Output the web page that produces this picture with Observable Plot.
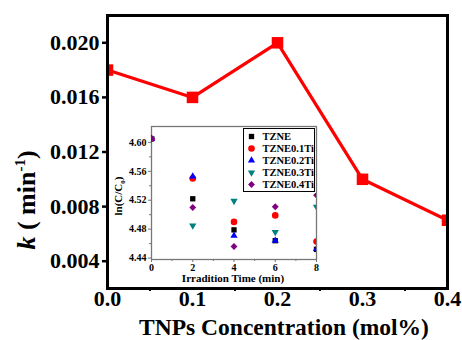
<!DOCTYPE html>
<html><head><meta charset="utf-8">
<script src="https://cdn.jsdelivr.net/npm/d3@7"></script>
<script src="https://cdn.jsdelivr.net/npm/@observablehq/plot@0.6"></script>
<style>
body{margin:0;background:#fff;}
#wrap{position:relative;width:462px;height:340px;overflow:hidden;}
#wrap svg{position:absolute;}
</style></head><body><div id="wrap"></div>
<script>
// Main chart data
const concentrations = [0.0, 0.1, 0.2, 0.3, 0.4];
const kValues = [0.0180, 0.0160, 0.0200, 0.0100, 0.0070];
const yTicks = [0.004, 0.008, 0.012, 0.016, 0.020];
const xTicks = [0.0, 0.1, 0.2, 0.3, 0.4];
const xMinor = [0.05, 0.15, 0.25, 0.35];

// Inset data
const times = [0, 2, 4, 6, 8];
const seriesNames = ["TZNE", "TZNE0.1Ti", "TZNE0.2Ti", "TZNE0.3Ti", "TZNE0.4Ti"];
const tzne    = [4.605, 4.522, 4.479, 4.464, 4.452];
const tzne01  = [4.605, 4.550, 4.490, 4.499, 4.463];
const tzne02  = [4.605, 4.553, 4.471, 4.464, 4.4525];
const tzne03  = [4.605, 4.485, 4.519, 4.476, 4.511];
const tzne04  = [4.605, 4.510, 4.456, 4.511, 4.527];
const seriesColors = ["#000000", "#ff0000", "#0000ff", "#008080", "#800080"];
const insetYTicks = [4.44, 4.48, 4.52, 4.56, 4.60];
const insetYMinor = [4.46, 4.50, 4.54, 4.58];
const insetXTicks = [0, 2, 4, 6, 8];
const insetXMinor = [1, 3, 5, 7];

const invTriangle = {
  draw(context, size) {
    const s3 = Math.sqrt(3);
    const y = -Math.sqrt(size / (s3 * 3));
    context.moveTo(0, -y * 2);
    context.lineTo(-s3 * y, y);
    context.lineTo(s3 * y, y);
    context.closePath();
  }
};
const seriesSymbols = ["square", "circle", "triangle", invTriangle, "diamond2"];
const seriesR = [3, 3.3, 2.7, 2.7, 3.1];
const seriesValues = [tzne, tzne01, tzne02, tzne03, tzne04];

const mainData = concentrations.map((c, i) => ({c, k: kValues[i]}));
const insetData = seriesNames.map((name, s) => times.map((t, i) => ({name, t, v: seriesValues[s][i]})));

const FONT = "'Liberation Serif', 'Times New Roman', serif";
const wrap = document.getElementById("wrap");

const main = Plot.plot({
  width: 462, height: 340,
  marginLeft: 107, marginRight: 15, marginTop: 15, marginBottom: 52,
  style: {fontFamily: FONT, fontWeight: "bold", fontSize: "22px", color: "#000", background: "transparent"},
  x: {domain: [0, 0.4]},
  y: {domain: [0.002, 0.022]},
  marks: [
    Plot.axisY({ticks: yTicks, tickFormat: d => d.toFixed(3), tickSize: 5, tickPadding: 3, strokeWidth: 2.5, label: null}),
    Plot.axisX({ticks: xTicks, tickFormat: d => d.toFixed(1), tickSize: 2, tickPadding: 0, strokeWidth: 2.5, label: null}),
    Plot.axisX({ticks: xMinor, tickFormat: () => "", tickSize: 3, strokeWidth: 2, label: null}),
    Plot.line(mainData, {x: "c", y: "k", stroke: "#ff0000", strokeWidth: 3.2, clip: true}),
    Plot.dot(mainData, {x: "c", y: "k", symbol: "square", r: 6.5, fill: "#ff0000", clip: true}),
    Plot.frame({stroke: "#000", strokeWidth: 3})
  ]
});
main.style.left = "0px"; main.style.top = "0px";
wrap.appendChild(main);

const ms = d3.select(main);
const yl = ms.append("text")
  .attr("transform", "translate(35,200) rotate(-90)")
  .attr("text-anchor", "middle")
  .attr("font-family", FONT).attr("font-weight", "bold").attr("font-size", 26).attr("fill", "#000");
yl.append("tspan").attr("font-style", "italic").text("k");
yl.append("tspan").text(" ( min");
yl.append("tspan").attr("font-size", 15).attr("dy", -10).text("-1");
yl.append("tspan").attr("dy", 10).text(")");
ms.append("text")
  .attr("x", 284).attr("y", 335)
  .attr("text-anchor", "middle")
  .attr("font-family", FONT).attr("font-weight", "bold").attr("font-size", 23.5).attr("fill", "#000")
  .text("TNPs Concentration (mol%)");

// Inset
const insetMarks = [
  Plot.axisY({ticks: insetYTicks, tickFormat: d => d.toFixed(2), tickSize: 3, tickPadding: 2, stroke: "#777", strokeWidth: 1, label: null}),
  Plot.axisY({ticks: insetYMinor, tickFormat: () => "", tickSize: 2, stroke: "#777", strokeWidth: 1, label: null}),
  Plot.axisX({ticks: insetXTicks, tickFormat: d => String(d), tickSize: 3, tickPadding: 1, stroke: "#777", strokeWidth: 1, label: null}),
  Plot.axisX({ticks: insetXMinor, tickFormat: () => "", tickSize: 2, stroke: "#777", strokeWidth: 1, label: null}),
  Plot.frame({stroke: "#777", strokeWidth: 1.3})
];
insetData.forEach((rows, s) => {
  insetMarks.push(Plot.dot(rows, {x: "t", y: "v", symbol: seriesSymbols[s], r: seriesR[s], fill: seriesColors[s], clip: true}));
});
const inset = Plot.plot({
  width: 212, height: 172,
  marginLeft: 41, marginRight: 6, marginTop: 8, marginBottom: 31,
  style: {fontFamily: FONT, fontWeight: "bold", fontSize: "10px", color: "#000", background: "transparent"},
  x: {domain: [0, 8]},
  y: {domain: [4.438, 4.622]},
  marks: insetMarks
});
inset.style.left = "110px"; inset.style.top = "118px";
wrap.appendChild(inset);
const is = d3.select(inset);
const il = is.append("text")
  .attr("transform", "translate(12,78) rotate(-90)")
  .attr("text-anchor", "middle")
  .attr("font-family", FONT).attr("font-weight", "bold").attr("font-size", 11).attr("fill", "#000");
il.append("tspan").text("ln(C/C");
il.append("tspan").attr("font-size", 7).attr("dy", 2.5).text("0");
il.append("tspan").attr("dy", -2.5).text(")");
is.append("text")
  .attr("x", 123).attr("y", 164)
  .attr("text-anchor", "middle")
  .attr("font-family", FONT).attr("font-weight", "bold").attr("font-size", 11).attr("fill", "#000")
  .text("Irradition Time (min)");

// Legend
const legendMarks = [];
seriesNames.forEach((name, s) => {
  legendMarks.push(Plot.dot([name], {y: d => d, frameAnchor: "left", dx: 7, symbol: seriesSymbols[s], r: seriesR[s], fill: seriesColors[s]}));
});
legendMarks.push(Plot.text(seriesNames, {y: d => d, text: d => d, frameAnchor: "left", dx: 18, textAnchor: "start"}));
const legend = Plot.plot({
  width: 70, height: 62,
  margin: 0,
  style: {fontFamily: FONT, fontWeight: "bold", fontSize: "10.5px", color: "#000", background: "#fff", border: "1px solid #000", boxSizing: "content-box"},
  y: {type: "band", domain: seriesNames, padding: 0, axis: null},
  marks: legendMarks
});
legend.style.left = "243px"; legend.style.top = "128px";
wrap.appendChild(legend);
</script></body></html>
